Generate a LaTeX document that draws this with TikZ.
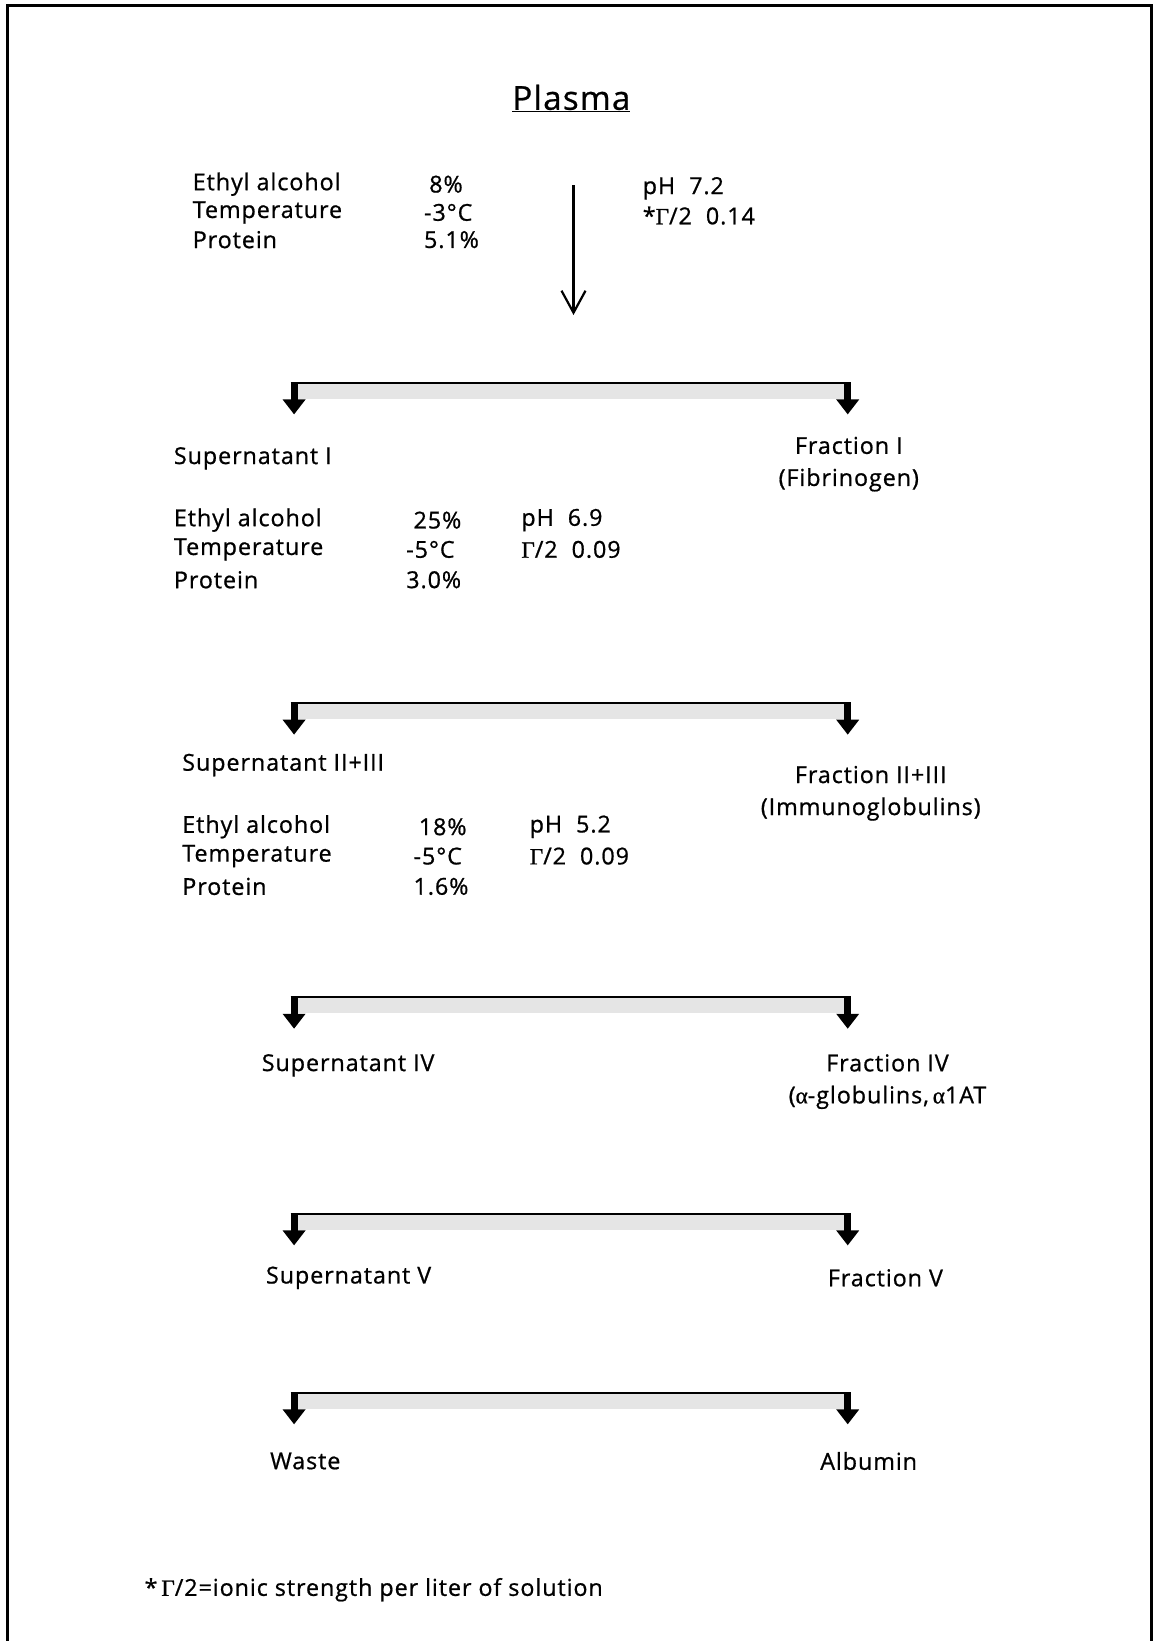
\documentclass[tikz,border=0pt]{standalone}
\usepackage{fontspec}
\setmainfont{Open Sans}
\newfontfamily\mainf{Open Sans}[LetterSpace=4,FakeBold=0.8]
\newfontfamily\grk{Liberation Serif}[FakeBold=0.8]
\usetikzlibrary{arrows.meta}
\newcommand{\Gam}{{\grk Γ}}
\newcommand{\alp}{{\grk α}}
\begin{document}
\begin{tikzpicture}[x=1.0463pt,y=-1.0463pt,
  txt/.style={anchor=west,inner sep=0pt,font=\mainf\fontsize{23.3}{25}\selectfont},
  ctr/.style={anchor=center,inner sep=0pt,font=\mainf\fontsize{23.3}{25}\selectfont,align=center},
  brline/.style={line width=2pt},
  brarrow/.style={line width=7pt,-{Triangle[length=15pt,width=22pt]}},
  shade/.style={fill=gray!20}]
\useasboundingbox (0,0) rectangle (1102,1568);
% frame
\draw[line width=3pt] (7.5,1570) -- (7.5,5) -- (1100.5,5) -- (1100.5,1570);
% title
\node[inner sep=0pt,font=\mainf\fontsize{33}{36}\selectfont] (plasma) at (546,94) {\underline{Plasma}};
% top conditions
\node[txt] (e0) at (184,176) {Ethyl alcohol};
\node[txt] (t0) at (184,203) {Temperature};
\node[txt] (p0) at (184,229) {Protein};
\node[txt] (e0v) at (410,176) {8\%};
\node[txt] (t0v) at (405,203) {-3°C};
\node[txt] (p0v) at (405,229) {5.1\%};
\node[txt] (ph0) at (614,180) {pH\ \ 7.2};
\node[txt] (g0) at (614,206) {*\Gam/2\ \ 0.14};
% main arrow
\coordinate (m0) at (548,177);
\coordinate (m1) at (548,301);
\draw[line width=2.6pt,-{Straight Barb[length=22pt,width=24pt,line width=2.2pt]}] (m0) -- (m1);
% branches
\foreach \n/\y in {1/366,2/672,3/953,4/1160,5/1331}{
  \coordinate (b\n l) at (281,\y);
  \coordinate (b\n r) at (810,\y);
  \coordinate (b\n le) at (281,\y+30);
  \coordinate (b\n re) at (810,\y+30);
  \fill[shade] (281,\y) rectangle (810,\y+15);
  \draw[brline] ([xshift=-3.5pt]b\n l) -- ([xshift=3.5pt]b\n r);
  \draw[brarrow] (b\n l) -- (b\n le);
  \draw[brarrow] (b\n r) -- (b\n re);
}
% level 1
\node[txt] (s1) at (166,438) {Supernatant I};
\node[ctr] (f1) at (811,443.5) {Fraction I\\[7pt](Fibrinogen)};
\node[txt] (e1) at (166,497) {Ethyl alcohol};
\node[txt] (t1) at (166,525) {Temperature};
\node[txt] (p1) at (166,554) {Protein};
\node[txt] (e1v) at (395,497) {25\%};
\node[txt] (t1v) at (388,525) {-5°C};
\node[txt] (p1v) at (388,554) {3.0\%};
\node[txt] (ph1) at (498,497) {pH\ \ 6.9};
\node[txt] (g1) at (498,525) {\Gam/2\ \ 0.09};
% level 2
\node[txt] (s2) at (174,731) {Supernatant II+III};
\node[ctr] (f2) at (832,758) {Fraction II+III\\[7pt](Immunoglobulins)};
\node[txt] (e2) at (174,790) {Ethyl alcohol};
\node[txt] (t2) at (174,818) {Temperature};
\node[txt] (p2) at (174,847) {Protein};
\node[txt] (e2v) at (400,790) {18\%};
\node[txt] (t2v) at (395,818) {-5°C};
\node[txt] (p2v) at (395,847) {1.6\%};
\node[txt] (ph2) at (506,790) {pH\ \ 5.2};
\node[txt] (g2) at (506,818) {\Gam/2\ \ 0.09};
% level 3
\node[txt] (s3) at (250,1018) {Supernatant IV};
\node[ctr] (f3) at (848,1033.5) {Fraction IV\\[7pt](\alp-globulins,\,\alp1AT};
% level 4
\node[txt] (s4) at (254,1221) {Supernatant V};
\node[ctr] (f4) at (846,1221) {Fraction V};
% level 5
\node[txt] (s5) at (258,1396) {Waste};
\node[ctr] (f5) at (830,1396) {Albumin};
% footnote
\node[txt] (fn) at (138,1519) {*\,\Gam/2=ionic strength per liter of solution};
\end{tikzpicture}
\end{document}
